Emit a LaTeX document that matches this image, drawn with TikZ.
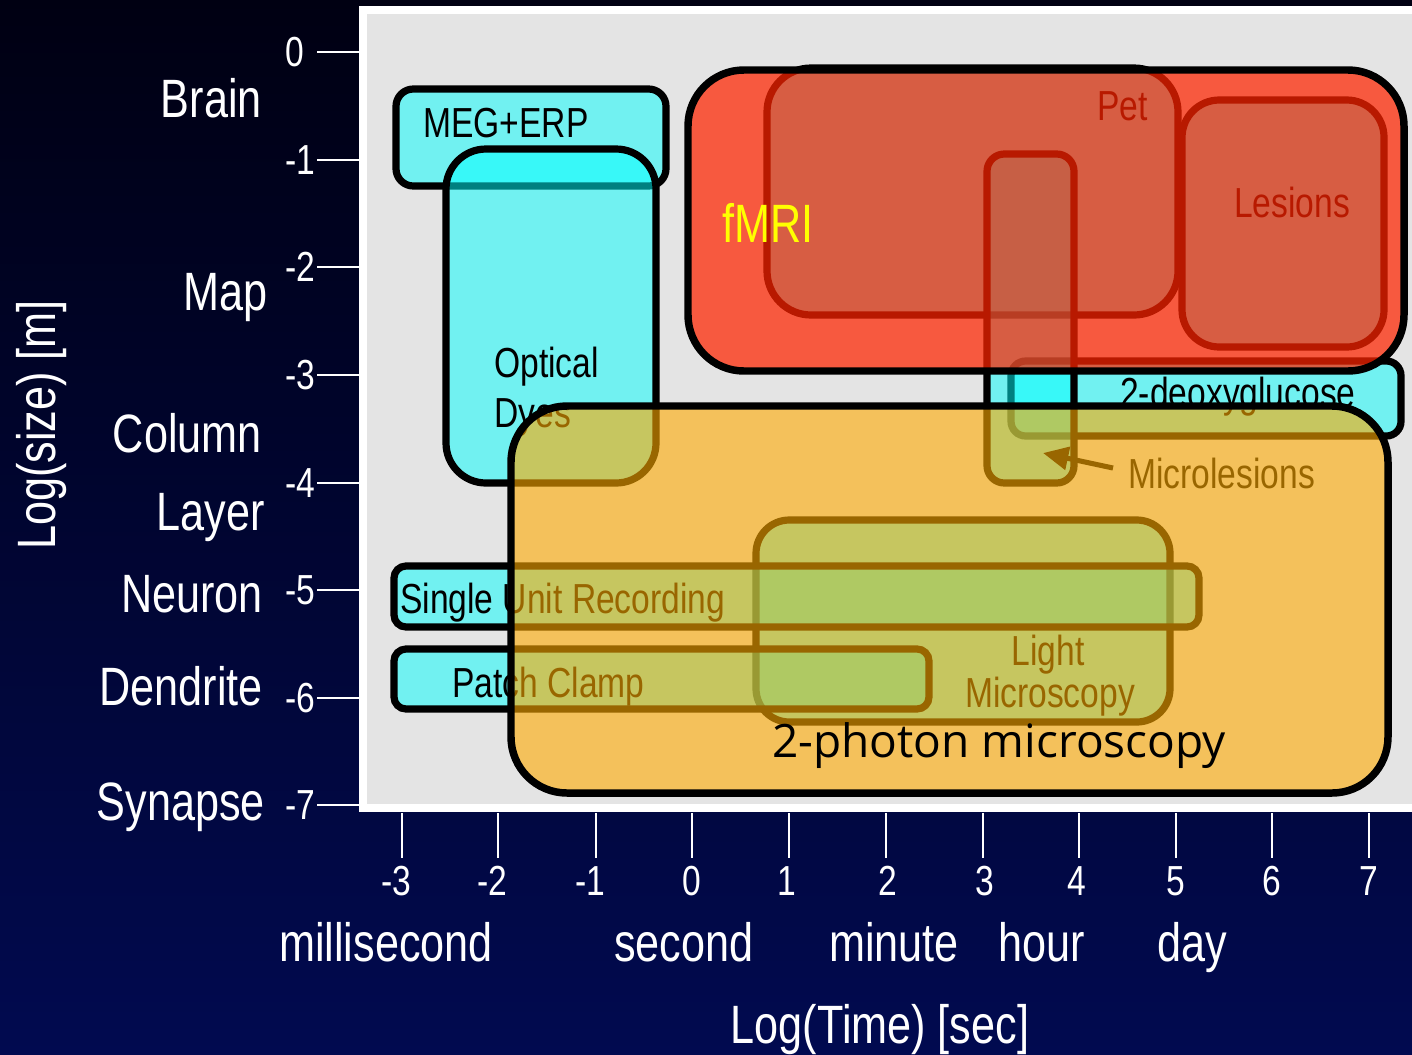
\documentclass[tikz,border=0pt]{standalone}
\usepackage{fontspec}
\setmainfont{Liberation Sans}[FakeStretch=0.8]
\newfontfamily\comicfont{Open Sans}
\usetikzlibrary{arrows.meta}
\definecolor{bgtop}{RGB}{0,0,18}
\definecolor{bgbot}{RGB}{1,10,80}
\definecolor{plotgray}{RGB}{228,228,228}
\definecolor{cyanfill}{RGB}{0,255,255}
\definecolor{fmrifill}{RGB}{255,36,0}
\definecolor{orangefill}{RGB}{255,170,0}
\definecolor{fmritext}{RGB}{255,255,0}
\begin{document}
\begin{tikzpicture}[x=0.75pt,y=-0.75pt,
  cbox/.style={draw=black,line width=5.4pt,fill=cyanfill,fill opacity=0.5},
  axlab/.style={text=white,font=\fontsize{40.5}{44}\selectfont,inner sep=0pt},
  ticklab/.style={text=white,font=\fontsize{31.5}{34}\selectfont,inner sep=0pt},
  boxlab/.style={text=black,font=\fontsize{31.5}{34}\selectfont,inner sep=0pt},
  tickline/.style={white,line width=1.5pt}]
\useasboundingbox (0,0) rectangle (1412,1054);
% background
\shade[top color=bgtop,bottom color=bgbot] (0,0) rectangle (1412,1054);
% plot area
\fill[white] (359,6) rectangle (1412,812);
\fill[plotgray] (367,14) rectangle (1412,804);
% y axis
\foreach \lab/\y/\n in {0/52/a,-1/160/b,-2/267/c,-3/375/d,-4/483/e,-5/590/f,-6/698/g,-7/805/h}{
  \draw[tickline] (317,\y) -- (359,\y);
  \node[ticklab,anchor=west] (yt\n) at (285,\y) {\lab};
}
\node[axlab,anchor=base east] (brain) at (262,117) {Brain};
\node[axlab,anchor=base east] (map) at (268,310) {Map};
\node[axlab,anchor=base east] (column) at (262,452) {Column};
\node[axlab,anchor=base east] (layer) at (265,530) {Layer};
\node[axlab,anchor=base east] (neuron) at (263,612) {Neuron};
\node[axlab,anchor=base east] (dendrite) at (263,705) {Dendrite};
\node[axlab,anchor=base east] (synapse) at (265,820) {Synapse};
\node[axlab,anchor=base,rotate=90] (ylabel) at (55,425) {Log(size) [m]};
% x axis
\foreach \lab/\x/\dx/\n in {-3/402/-6/a,-2/498/-6/b,-1/596/-6/c,0/692/0/d,1/789/-2/e,2/886/2/f,3/983/2/g,4/1079/-2/h,5/1176/0/i,6/1272/0/j,7/1369/0/k}{
  \draw[tickline] (\x,813) -- (\x,858);
  \node[ticklab] (xt\n) at (\x+\dx,881) {\lab};
}
\node[axlab,anchor=base] (ms) at (386,961) {millisecond};
\node[axlab,anchor=base] (sec) at (684,961) {second};
\node[axlab,anchor=base] (min) at (894,961) {minute};
\node[axlab,anchor=base] (hour) at (1042,961) {hour};
\node[axlab,anchor=base] (day) at (1192,961) {day};
\node[axlab,anchor=base] (xlabel) at (880,1043) {Log(Time) [sec]};
% cyan boxes
\draw[cbox,rounded corners=13pt] (396,89) rectangle (666,186);
\node[boxlab,anchor=base west] (meg) at (423,137) {MEG+ERP};
\draw[cbox,rounded corners=30pt] (446,149) rectangle (656,483);
\node[boxlab,anchor=base west] (optical) at (494,377) {Optical};
\node[boxlab,anchor=base west] (dyes) at (494,427) {Dyes};
\draw[cbox,rounded corners=25pt] (756,520) rectangle (1170,722);
\node[boxlab,anchor=base] (light) at (1048,665) {Light};
\node[boxlab,anchor=base] (micro) at (1050,707) {Microscopy};
\draw[cbox,rounded corners=9pt] (394,566) rectangle (1199,627);
\node[boxlab,anchor=base west] (sur) at (400,613) {Single Unit Recording};
\draw[cbox,rounded corners=9pt] (394,649) rectangle (929,709);
\node[boxlab,anchor=base west] (patch) at (452,697) {Patch Clamp};
\draw[cbox,rounded corners=11pt] (1011,361) rectangle (1401,436);
\node[boxlab,anchor=base west] (deoxy) at (1120,407) {2-deoxyglucose};
\draw[cbox,rounded corners=33pt] (767,68) rectangle (1178,315);
\node[boxlab,anchor=base east] (pet) at (1148,120) {Pet};
\draw[cbox,rounded corners=28pt] (1182,100) rectangle (1384,347);
\node[boxlab,anchor=base] (lesions) at (1292,217) {Lesions};
\draw[cbox,rounded corners=13pt] (987,154) rectangle (1074,483);
% fMRI
\draw[draw=black,line width=5.6pt,fill=fmrifill,fill opacity=0.72,rounded corners=42pt] (688,70) rectangle (1404,371);
\node[axlab,text=fmritext,anchor=base west] (fmri) at (722,242) {fMRI};
% microlesions label and arrow
\node[boxlab,anchor=base west] (mlesions) at (1128,488) {Microlesions};
\coordinate (mtail) at (1113,468);
\coordinate (mtip) at (1043,453);
\draw[black,line width=3.8pt,-{Triangle[length=19pt,width=17pt]}] (mtail) -- (mtip);
% 2-photon
\draw[draw=black,line width=5.6pt,fill=orangefill,fill opacity=0.6,rounded corners=42pt] (511,406) rectangle (1388,793);
\node[text=black,font=\comicfont\fontsize{34.5}{38}\selectfont,inner sep=0pt,anchor=base west] (twophoton) at (772,757) {2-photon microscopy};
\end{tikzpicture}
\end{document}
